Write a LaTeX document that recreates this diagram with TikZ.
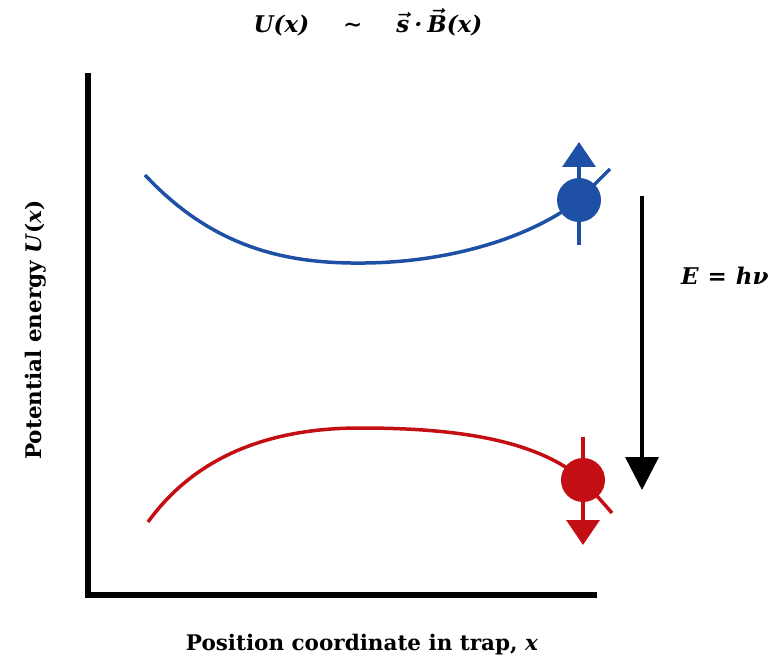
\documentclass[tikz,border=0pt]{standalone}
\usepackage{fontspec}
\setmainfont{DejaVu Serif}
\usetikzlibrary{arrows.meta}
\definecolor{upblue}{RGB}{30,80,165}
\definecolor{downred}{RGB}{195,15,20}
\tikzset{
  axisline/.style={line width=6pt, line cap=rect},
  curveline/.style={line width=3.5pt},
  ball/.style={circle, inner sep=0pt, minimum size=44pt},
  spinarrow/.style={line width=3.5pt, -{Triangle[width=33pt,length=25pt]}},
  labeltext/.style={font=\fontsize{21.5}{25}\selectfont\bfseries\boldmath, inner sep=0pt},
  mathtext/.style={font=\fontsize{23}{27}\selectfont\bfseries\itshape\boldmath, inner sep=0pt},
}
\begin{document}
\begin{tikzpicture}[x=1pt,y=-1pt]
\useasboundingbox (0,0) rectangle (779,663);
% axes
\coordinate (origin) at (88,595);
\coordinate (ytop) at (88,76);
\coordinate (xend) at (594,595);
\draw[axisline] (ytop) -- (origin) -- (xend);
% blue curve
\coordinate (b0) at (145,175);
\coordinate (bmin) at (365,263);
\coordinate (bend) at (610,169);
\node[ball, fill=upblue] (bball) at (579,200) {};
\draw[curveline, upblue] (b0) .. controls (215,250) and (290,264) .. (bmin)
   .. controls (450,262) and (530,238) .. (bball.center) -- (bend);
\coordinate (bbot) at (579,245);
\coordinate (btop) at (579,142);
\draw[spinarrow, upblue] (bbot) -- (btop);
% red curve
\coordinate (r0) at (148,522);
\coordinate (rmax) at (360,428);
\coordinate (rend) at (612,513);
\node[ball, fill=downred] (rball) at (583,480) {};
\draw[curveline, downred] (r0) .. controls (200,450) and (280,428) .. (rmax)
   .. controls (450,428) and (535,438) .. (rball.center) -- (rend);
\coordinate (rtop) at (583,437);
\coordinate (rbot) at (583,545);
\draw[spinarrow, downred] (rtop) -- (rbot);
% transition arrow
\coordinate (tstart) at (642,196);
\coordinate (tend) at (642,490);
\draw[line width=3.5pt, -{Triangle[width=33pt,length=33pt]}] (tstart) -- (tend);
% labels
\node[mathtext, anchor=west] (elabel) at (681,276) {E\hspace{9pt}=\hspace{9pt}hν};
\node[mathtext] (title) at (368,22) {U(x)\hspace{34pt}∼\hspace{34pt}$\vec{\mbox{s}}$\hspace{5pt}·\hspace{5pt}$\vec{\mbox{B}}$(x)};
\node[labeltext, rotate=90] (ylabel) at (36,330) {Potential energy \textit{U}(\textit{x})};
\node[labeltext] (xlabel) at (362,645) {Position coordinate in trap, \textit{x}};
\end{tikzpicture}
\end{document}
